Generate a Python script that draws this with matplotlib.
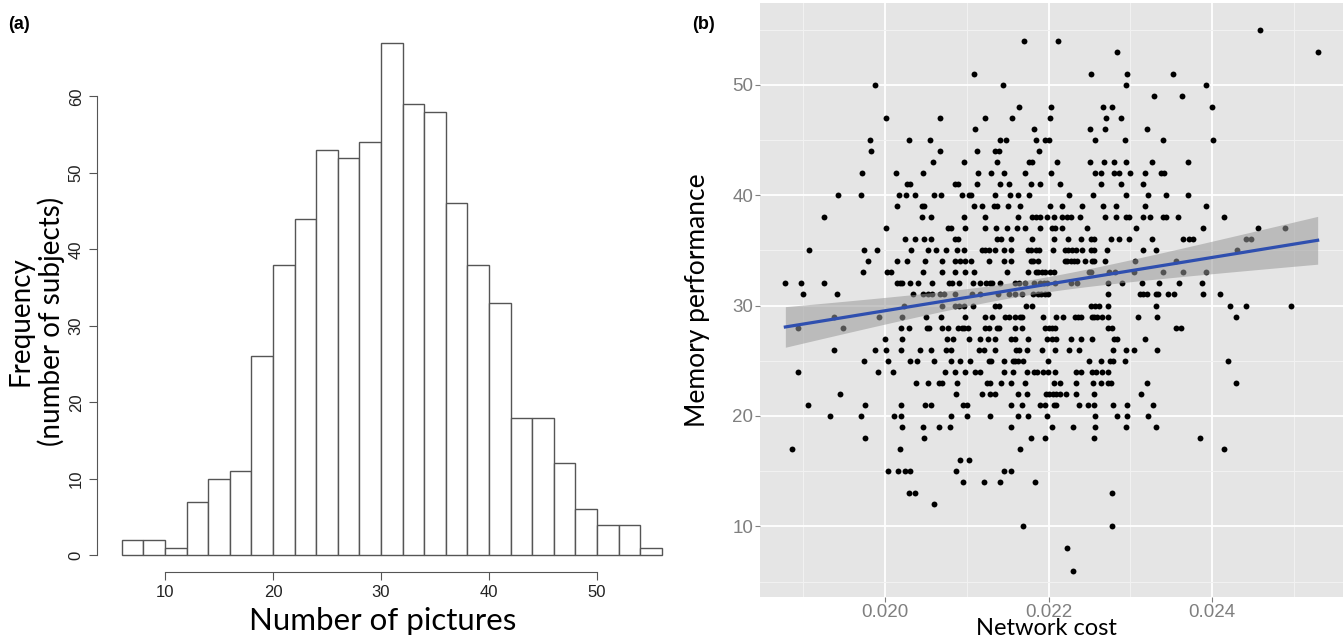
import matplotlib
matplotlib.use('Agg')
import matplotlib.pyplot as plt
import numpy as np

# (a) histogram of number of pictures remembered
bin_edges = np.arange(6, 58, 2)
counts = [2, 2, 1, 7, 10, 11, 26, 38, 44, 53, 52, 54, 67, 59, 58, 46, 38, 33,
          18, 18, 12, 6, 4, 4, 1]

# (b) scatter: memory score -> network cost values (x 1e-4)
rows = {
    55: [245.9],
    54: [217.0, 221.1],
    53: [228.3, 252.9],
    51: [210.9, 225.2, 229.6, 235.2],
    50: [198.8, 214.4, 229.4, 239.3],
    49: [232.9, 236.3],
    48: [216.4, 220.3, 226.7, 227.8, 240.0],
    47: [200.1, 206.7, 212.2, 215.5, 220.2, 227.0, 228.9],
    46: [211.0, 218.2, 225.1, 226.9, 232.0],
    45: [198.2, 202.9, 205.5, 214.0, 214.8, 218.4, 219.6, 220.1, 225.7, 229.3, 234.0, 240.1],
    44: [198.3, 206.7, 211.2, 213.5, 213.9, 218.8],
    43: [205.9, 209.7, 213.7, 217.6, 218.0, 221.0, 225.0, 226.8, 228.0, 229.5, 232.6, 237.0],
    42: [197.2, 201.3, 204.6, 211.3, 212.9, 214.6, 217.1, 220.3, 225.7, 226.4, 228.0, 228.6,
         229.9, 231.8, 233.7, 234.1],
    41: [202.7, 203.0, 208.6, 208.9, 211.2, 214.1, 215.2, 217.8, 219.0, 221.4, 226.4, 228.9,
         231.5],
    40: [194.3, 197.0, 201.7, 202.5, 203.6, 206.0, 206.8, 209.4, 210.2, 210.5, 213.4, 215.3,
         216.3, 217.6, 222.5, 225.4, 229.5, 232.1, 234.4, 237.1],
    39: [201.5, 204.5, 204.7, 210.9, 211.9, 213.3, 213.7, 215.0, 216.5, 220.2, 221.6, 224.1,
         226.7, 228.2, 231.8, 239.2],
    38: [192.5, 204.5, 205.6, 209.6, 212.2, 216.2, 218.0, 218.4, 219.0, 219.8, 220.7, 221.6,
         222.2, 222.7, 223.8, 226.9, 228.2, 229.5, 229.8, 231.6, 232.4, 234.0, 234.4, 235.8,
         241.4],
    37: [200.1, 207.7, 208.1, 209.8, 212.2, 213.6, 214.9, 216.1, 217.1, 219.0, 220.4, 220.8,
         221.6, 224.7, 230.7, 238.9, 245.6, 248.9],
    36: [202.4, 203.7, 204.7, 205.6, 208.5, 208.9, 213.7, 214.2, 215.4, 218.0, 220.7, 222.4,
         223.9, 225.2, 225.5, 227.6, 228.6, 229.8, 232.7, 236.4, 237.2, 237.6, 244.1, 244.7],
    35: [190.7, 197.4, 199.0, 203.2, 205.2, 206.2, 207.5, 208.8, 209.6, 211.8, 212.2, 212.7,
         213.4, 214.5, 215.4, 217.5, 217.8, 218.4, 218.8, 220.5, 222.0, 222.4, 222.9, 223.3,
         224.1, 225.2, 225.6, 227.1, 231.6, 233.1, 243.0],
    34: [197.9, 201.5, 202.7, 204.9, 206.9, 208.6, 209.2, 209.8, 210.5, 212.7, 214.5, 215.4,
         217.8, 218.1, 218.7, 222.0, 222.3, 222.7, 223.1, 223.5, 224.4, 225.3, 225.6, 226.9,
         230.6, 235.6],
    33: [197.3, 200.2, 200.7, 204.6, 206.9, 208.6, 209.8, 210.9, 214.9, 217.5, 218.4, 218.7,
         219.2, 219.5, 220.2, 220.6, 224.9, 225.2, 227.4, 228.1, 230.4, 234.0, 236.4, 239.3],
    32: [187.8, 189.7, 192.5, 201.4, 201.8, 202.1, 203.1, 204.0, 205.7, 207.8, 208.2, 209.0,
         210.8, 211.6, 212.4, 212.8, 213.1, 214.1, 215.9, 216.4, 217.1, 218.2, 218.9, 219.4,
         219.8, 220.8, 222.7, 223.5, 227.3, 229.0, 231.4, 233.5, 235.9, 238.7],
    31: [189.9, 194.1, 203.4, 204.6, 205.2, 205.7, 206.7, 207.2, 208.6, 210.6, 211.6, 213.8,
         215.1, 215.9, 216.7, 218.1, 218.7, 219.1, 219.5, 219.9, 227.3, 231.2, 231.6, 232.0,
         233.1, 233.4, 234.6, 235.3, 238.9, 240.9],
    30: [202.3, 206.9, 208.6, 209.0, 209.7, 210.7, 213.5, 213.9, 217.2, 218.0, 225.2, 225.7,
         226.2, 227.3, 233.1, 242.2, 244.1, 249.7],
    29: [193.8, 199.2, 202.1, 205.0, 206.8, 209.8, 212.2, 213.1, 214.7, 215.1, 215.9, 216.5,
         216.7, 219.3, 220.9, 221.8, 223.2, 223.6, 223.9, 225.3, 225.6, 225.9, 226.5, 227.3,
         230.9, 233.3, 242.9],
    28: [189.4, 194.9, 201.9, 202.9, 205.1, 205.4, 207.0, 207.7, 208.9, 209.4, 209.6, 210.1,
         212.2, 212.7, 213.7, 213.9, 215.9, 216.7, 219.6, 220.0, 220.4, 220.8, 227.3, 227.8,
         235.6, 236.2],
    27: [200.0, 202.1, 207.6, 208.3, 210.3, 211.6, 212.6, 213.5, 215.4, 215.9, 217.5, 219.8,
         220.4, 220.9, 222.7, 223.9, 225.3, 228.0, 228.4, 231.8],
    26: [193.7, 198.8, 200.1, 202.0, 204.3, 205.6, 207.4, 208.0, 211.5, 212.1, 213.4, 216.0,
         216.4, 217.3, 219.2, 220.8, 222.5, 223.7, 227.9, 229.4, 230.4, 233.3],
    25: [197.4, 200.4, 203.0, 203.9, 206.0, 208.0, 209.2, 210.4, 212.7, 213.0, 214.5, 215.6,
         215.9, 216.3, 216.9, 219.9, 224.9, 226.4, 227.5, 227.9, 229.3, 241.9],
    24: [189.4, 199.1, 201.0, 207.3, 208.6, 209.8, 211.0, 211.6, 214.5, 215.6, 217.3, 218.2,
         218.6, 219.3, 219.9, 220.8, 223.4, 224.0, 225.3, 225.8, 226.5, 227.3],
    23: [203.8, 205.3, 206.6, 206.9, 208.8, 212.5, 212.8, 214.2, 215.4, 217.1, 220.6, 221.4,
         223.4, 225.4, 226.4, 227.3, 227.6, 232.0, 242.9],
    22: [194.5, 208.7, 211.9, 212.8, 213.5, 216.2, 217.4, 219.7, 220.1, 220.5, 220.9, 221.4,
         222.1, 223.4, 225.5, 231.3],
    21: [190.6, 197.6, 201.9, 204.9, 205.6, 209.5, 210.0, 215.4, 216.7, 218.9, 219.5, 220.6,
         220.9, 223.7, 224.8, 225.5, 227.9, 229.6, 232.8],
    20: [193.3, 197.0, 201.1, 202.0, 208.1, 210.0, 212.8, 216.2, 217.5, 219.8, 225.7, 228.4,
         229.6, 232.2],
    19: [202.1, 204.6, 206.6, 207.9, 215.4, 220.4, 223.0, 225.7, 229.4, 233.1],
    18: [197.6, 204.7, 217.8, 219.6, 225.6, 238.5],
    17: [188.6, 201.8, 216.5, 241.4],
    16: [209.1, 210.2],
    15: [200.4, 201.6, 202.4, 203.0, 208.7, 214.5, 215.4],
    14: [209.5, 212.1, 214.1, 218.3],
    13: [202.9, 203.7, 227.7],
    12: [206.0],
    10: [216.9, 227.7],
    8: [222.3],
    6: [223.0],
}

cost = np.concatenate([np.array(v) for v in rows.values()]) * 1e-4
memory = np.concatenate([np.full(len(v), k, dtype=float) for k, v in rows.items()])

fig = plt.figure(figsize=(13.43, 6.39), dpi=100)

# ---------------- (a) ----------------
ax1 = fig.add_axes([0.0722, 0.1049, 0.4281, 0.834])
ax1.bar(bin_edges[:-1], counts, width=2, align='edge', color='white',
        edgecolor='#555555', linewidth=1.0)
ax1.set_xlim(3.70, 56.94)
ax1.set_ylim(-2.2, 67.5)
for s in ['top', 'right']:
    ax1.spines[s].set_visible(False)
ax1.spines['left'].set_bounds(0, 60)
ax1.spines['bottom'].set_bounds(10, 50)
ax1.spines['left'].set_color('#555555')
ax1.spines['bottom'].set_color('#555555')
ax1.set_xticks([10, 20, 30, 40, 50])
ax1.set_yticks([0, 10, 20, 30, 40, 50, 60])
ax1.tick_params(colors='#555555', labelcolor='#222222', length=6, labelsize=12)
for lab in ax1.get_yticklabels():
    lab.set_rotation(90)
    lab.set_va('center')
for lab in ax1.get_xticklabels() + ax1.get_yticklabels():
    lab.set_family('Liberation Sans')
ax1.set_xlabel('Number of pictures', fontsize=22.5, family='Lato')
ax1.xaxis.set_label_coords(0.497, -0.066)
ax1.set_ylabel('Frequency\n(number of subjects)', fontsize=20, family='Lato',
               linespacing=1.18)
ax1.yaxis.set_label_coords(-0.056, 0.47)
fig.text(0.006, 0.955, '(a)', fontsize=13, fontweight='bold', family='Liberation Sans')

# ---------------- (b) ----------------
ax2 = fig.add_axes([0.5659, 0.0657, 0.4341, 0.9296])
ax2.set_facecolor('#E5E5E5')
ax2.set_xlim(0.01847, 0.0256)
ax2.set_ylim(3.6, 57.4)
ax2.set_xticks([0.020, 0.022, 0.024])
ax2.set_xticklabels(['0.020', '0.022', '0.024'])
ax2.set_yticks([10, 20, 30, 40, 50])
ax2.set_xticks([0.019, 0.021, 0.023, 0.025], minor=True)
ax2.set_yticks([5, 15, 25, 35, 45, 55], minor=True)
ax2.grid(which='major', color='white', linewidth=1.3)
ax2.grid(which='minor', color='#F2F2F2', linewidth=0.7)
ax2.set_axisbelow(True)
for s in ax2.spines.values():
    s.set_visible(False)
ax2.tick_params(which='major', colors='#7F7F7F', labelcolor='#7F7F7F', length=3.5,
                pad=1.5, labelsize=13.5)
ax2.tick_params(which='minor', length=0)
for lab in ax2.get_xticklabels() + ax2.get_yticklabels():
    lab.set_family('Liberation Sans')

ax2.scatter(cost, memory, s=18, color='black', linewidths=0, zorder=3)

# linear fit with 95% band
b1, b0 = np.polyfit(cost, memory, 1)
xs = np.linspace(cost.min(), cost.max(), 100)
fit = b0 + b1 * xs
n = len(cost)
resid = memory - (b0 + b1 * cost)
s_err = np.sqrt(np.sum(resid ** 2) / (n - 2))
sxx = np.sum((cost - cost.mean()) ** 2)
se = s_err * np.sqrt(1.0 / n + (xs - cost.mean()) ** 2 / sxx)
ax2.fill_between(xs, fit - 1.96 * se, fit + 1.96 * se, color='#999999', alpha=0.55,
                 linewidth=0, zorder=4)
ax2.plot(xs, fit, color='#2F4FAF', linewidth=2.3, zorder=5)

ax2.set_xlabel('Network cost', fontsize=17, family='Lato', va='baseline')
ax2.xaxis.set_label_coords(0.492, -0.064)
ax2.set_ylabel('Memory performance', fontsize=19, family='Lato')
ax2.yaxis.set_label_coords(-0.085, 0.5)
fig.text(0.515, 0.955, '(b)', fontsize=13, fontweight='bold', family='Liberation Sans')

fig.savefig('out.png', dpi=100)
